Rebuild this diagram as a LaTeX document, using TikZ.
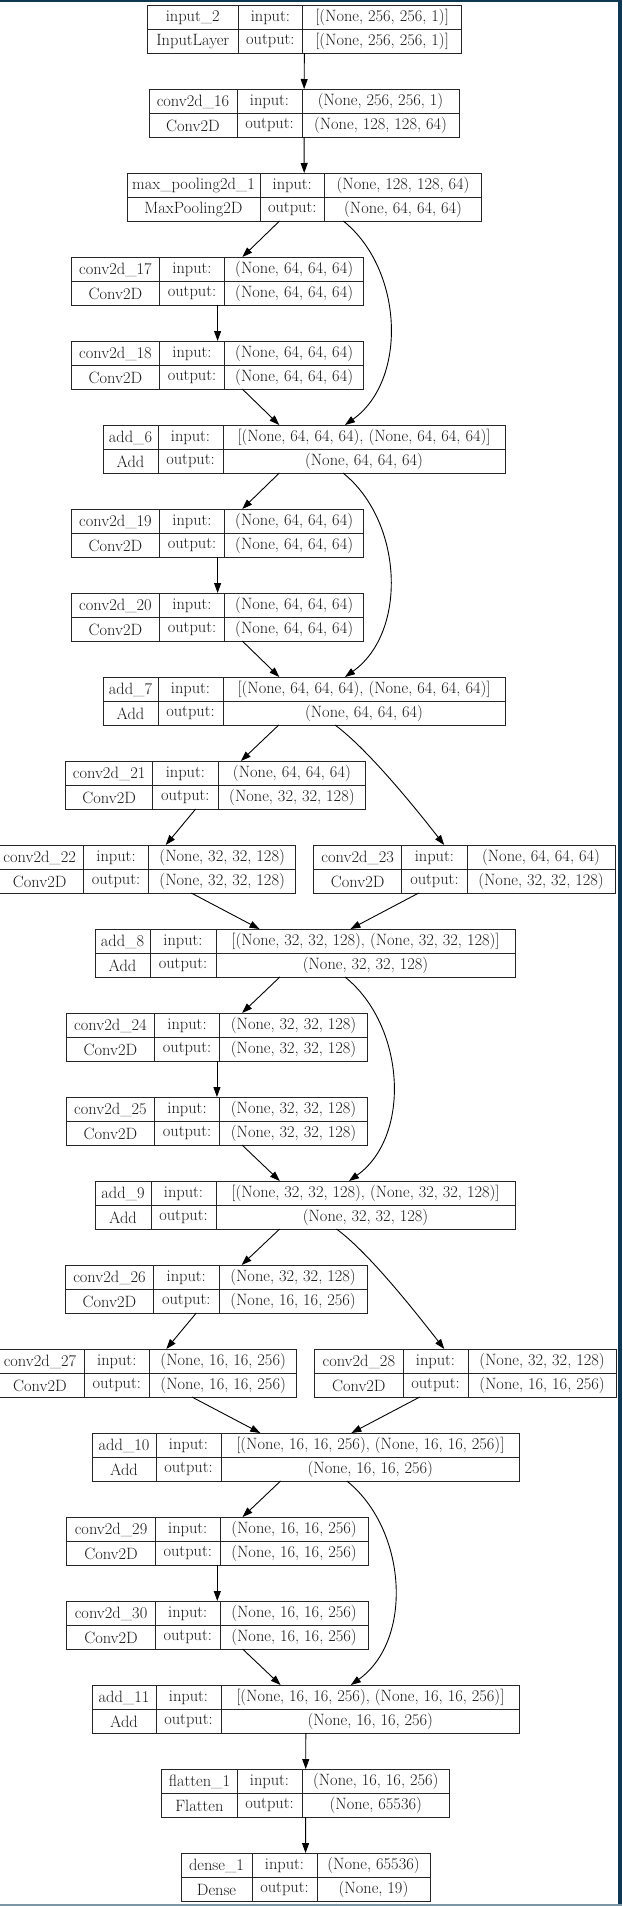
\documentclass[tikz,border=0pt]{standalone}
\usetikzlibrary{arrows.meta}
\definecolor{framenavy}{RGB}{14,55,84}
\definecolor{framegrey}{RGB}{125,150,165}
\def\laypos#1/#2/#3/#4/#5\relax{\def\lL{#1}\def\lA{#2}\def\lB{#3}\def\lR{#4}\def\lrow{#5}}
\newcommand{\lay}[8]{%
  \laypos#2\relax
  \pgfmathsetmacro\yt{5+84*\lrow}%
  \pgfmathsetmacro\yb{\yt+48}%
  \pgfmathsetmacro\ym{\yt+24}%
  \pgfmathsetmacro\xc{(\lL+\lR)/2}%
  \node[box, minimum width={(\lR-\lL)*1pt}] (#1) at (\xc,\ym) {};
  \draw[cell] (\lA,\yt) -- (\lA,\yb) (\lB,\yt) -- (\lB,\yb) (\lL,\ym) -- (\lR,\ym);
  \node[txt] (#1-n) at ({(\lL+\lA)/2},{\yt+12.5}) {#3};
  \node[txt] (#1-i) at ({(\lA+\lB)/2},{\yt+12.5}) {input:};
  \node[txt] (#1-iv) at ({(\lB+\lR)/2},{\yt+12.5}) {#4};
  \node[txt] (#1-t) at ({(\lL+\lA)/2},{\yt+36.5}) {#5};
  \node[txt] (#1-o) at ({(\lA+\lB)/2},{\yt+36.5}) {output:};
  \node[txt] (#1-ov) at ({(\lB+\lR)/2},{\yt+36.5}) {#6};
}
\begin{document}
\begin{tikzpicture}[x=1pt,y=-1pt,
  box/.style={draw=black!85, line width=0.9pt, rectangle, inner sep=0pt, outer sep=0pt, minimum height=48pt},
  cell/.style={draw=black!85, line width=0.9pt},
  txt/.style={inner sep=0pt, font=\fontsize{16.4}{19}\selectfont, text=black!90},
  arr/.style={-{Triangle[length=10pt,width=7pt]}, line width=0.9pt, black},
  skip/.style={arr}]
\useasboundingbox (0,0) rectangle (622,1906);
\fill[white] (0,0) rectangle (622,1906);

\lay{in2}{147.6/238/302.7/461.4/0}{input\_2}{[(None, 256, 256, 1)]}{InputLayer}{[(None, 256, 256, 1)]}{}{}
\lay{c16}{149/237/302/459/1}{conv2d\_16}{(None, 256, 256, 1)}{Conv2D}{(None, 128, 128, 64)}{}{}
\lay{mp}{127/260/324.5/481.6/2}{max\_pooling2d\_1}{(None, 128, 128, 64)}{MaxPooling2D}{(None, 64, 64, 64)}{}{}
\lay{c17}{71.4/159.5/224.5/363.8/3}{conv2d\_17}{(None, 64, 64, 64)}{Conv2D}{(None, 64, 64, 64)}{}{}
\lay{c18}{71.4/159.5/224.5/363.8/4}{conv2d\_18}{(None, 64, 64, 64)}{Conv2D}{(None, 64, 64, 64)}{}{}
\lay{a6}{103/158/223/505/5}{add\_6}{[(None, 64, 64, 64), (None, 64, 64, 64)]}{Add}{(None, 64, 64, 64)}{}{}
\lay{c19}{71.4/159.5/224.5/363.8/6}{conv2d\_19}{(None, 64, 64, 64)}{Conv2D}{(None, 64, 64, 64)}{}{}
\lay{c20}{71.4/159.5/224.5/363.8/7}{conv2d\_20}{(None, 64, 64, 64)}{Conv2D}{(None, 64, 64, 64)}{}{}
\lay{a7}{103/158/223/505/8}{add\_7}{[(None, 64, 64, 64), (None, 64, 64, 64)]}{Add}{(None, 64, 64, 64)}{}{}
\lay{c21}{65.5/152.7/218/365.8/9}{conv2d\_21}{(None, 64, 64, 64)}{Conv2D}{(None, 32, 32, 128)}{}{}
\lay{c22}{-4/83.3/148.8/295.5/10}{conv2d\_22}{(None, 32, 32, 128)}{Conv2D}{(None, 32, 32, 128)}{}{}
\lay{c23}{313.4/401.9/467/615/10}{conv2d\_23}{(None, 64, 64, 64)}{Conv2D}{(None, 32, 32, 128)}{}{}
\lay{a8}{95/150/216/515/11}{add\_8}{[(None, 32, 32, 128), (None, 32, 32, 128)]}{Add}{(None, 32, 32, 128)}{}{}
\lay{c24}{66.2/154.7/219.4/367.7/12}{conv2d\_24}{(None, 32, 32, 128)}{Conv2D}{(None, 32, 32, 128)}{}{}
\lay{c25}{66.2/154.7/219.4/367.7/13}{conv2d\_25}{(None, 32, 32, 128)}{Conv2D}{(None, 32, 32, 128)}{}{}
\lay{a9}{95/151/216/515/14}{add\_9}{[(None, 32, 32, 128), (None, 32, 32, 128)]}{Add}{(None, 32, 32, 128)}{}{}
\lay{c26}{65.5/153.5/219/367/15}{conv2d\_26}{(None, 32, 32, 128)}{Conv2D}{(None, 16, 16, 256)}{}{}
\lay{c27}{-4/84/149.6/296.7/16}{conv2d\_27}{(None, 16, 16, 256)}{Conv2D}{(None, 16, 16, 256)}{}{}
\lay{c28}{314.6/403/468/616/16}{conv2d\_28}{(None, 32, 32, 128)}{Conv2D}{(None, 16, 16, 256)}{}{}
\lay{a10}{92/156/221/519.7/17}{add\_10}{[(None, 16, 16, 256), (None, 16, 16, 256)]}{Add}{(None, 16, 16, 256)}{}{}
\lay{c29}{66.6/155.5/220/368/18}{conv2d\_29}{(None, 16, 16, 256)}{Conv2D}{(None, 16, 16, 256)}{}{}
\lay{c30}{66.6/155.5/220/368/19}{conv2d\_30}{(None, 16, 16, 256)}{Conv2D}{(None, 16, 16, 256)}{}{}
\lay{a11}{92/156/221/519.7/20}{add\_11}{[(None, 16, 16, 256), (None, 16, 16, 256)]}{Add}{(None, 16, 16, 256)}{}{}
\lay{fl}{161.9/237/302/449.5/21}{flatten\_1}{(None, 16, 16, 256)}{Flatten}{(None, 65536)}{}{}
\lay{d1}{181/252/317/430/22}{dense\_1}{(None, 65536)}{Dense}{(None, 19)}{}{}

% straight connectors
\draw[arr] (in2) -- (c16);
\draw[arr] (c16) -- (mp);
\draw[arr] (mp) -- (c17);
\draw[arr] (c17) -- (c18);
\draw[arr] (c18) -- (a6);
\draw[arr] (a6) -- (c19);
\draw[arr] (c19) -- (c20);
\draw[arr] (c20) -- (a7);
\draw[arr] (a7) -- (c21);
\draw[arr] (c21) -- (c22);
\draw[arr] (c22) -- (a8);
\draw[arr] (c23) -- (a8);
\draw[arr] (a8) -- (c24);
\draw[arr] (c24) -- (c25);
\draw[arr] (c25) -- (a9);
\draw[arr] (a9) -- (c26);
\draw[arr] (c26) -- (c27);
\draw[arr] (c27) -- (a10);
\draw[arr] (c28) -- (a10);
\draw[arr] (a10) -- (c29);
\draw[arr] (c29) -- (c30);
\draw[arr] (c30) -- (a11);
\draw[arr] (a11) -- (fl);
\draw[arr] (fl) -- (d1);

% skip connections
\draw[skip] ([xshift=39pt]mp.south) .. controls +(60,48) and +(63,-45) .. ([xshift=41pt]a6.north);
\draw[skip] ([xshift=39pt]a6.south) .. controls +(60,48) and +(63,-45) .. ([xshift=41pt]a7.north);
\draw[skip] ([xshift=40pt]a8.south) .. controls +(60,48) and +(63,-45) .. ([xshift=44pt]a9.north);
\draw[skip] ([xshift=41pt]a10.south) .. controls +(60,48) and +(63,-45) .. ([xshift=45pt]a11.north);

% branch connectors
\draw[arr] ([xshift=31pt]a7.south) .. controls +(30,22) and +(-35,-45) .. ([xshift=-20pt]c23.north);
\draw[arr] ([xshift=31.5pt]a9.south) .. controls +(30,22) and +(-35,-45) .. ([xshift=-21pt]c28.north);

% frame
\fill[framenavy] (0,0) rectangle (622,2);
\fill[framenavy] (618,0) rectangle (622,1906);
\fill[framegrey] (0,1904) rectangle (622,1906);
\end{tikzpicture}
\end{document}
